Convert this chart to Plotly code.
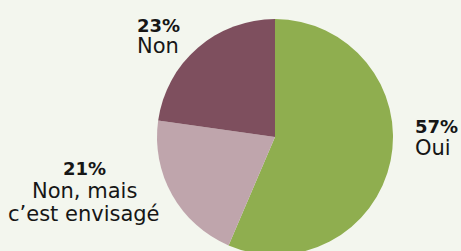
import plotly.graph_objects as go

labels = ["Oui", "Non, mais c’est envisagé", "Non"]
values = [57, 21, 23]
colors = ["#8fae4f", "#bfa5ac", "#7e4f5e"]

W, H = 461, 262
cx, cy, r = 275, 137, 118

fig = go.Figure(go.Pie(
    labels=labels, values=values, sort=False, direction="clockwise", rotation=0,
    marker=dict(colors=colors, line=dict(width=0)), textinfo="none", hoverinfo="none",
    domain=dict(x=[(cx - r) / W, (cx + r) / W], y=[(H - (cy + r)) / H, (H - (cy - r)) / H]),
    showlegend=False,
))

font = "DejaVu Sans"
ann_pos = [
    dict(x=414, y=126, xanchor="left", lines=["Oui"], gap=22),
    dict(x=84, y=168, xanchor="center", lines=["Non, mais", "c’est envisagé"], gap=23),
    dict(x=158, y=25, xanchor="center", lines=["Non"], gap=21),
]
for v, p in zip(values, ann_pos):
    fig.add_annotation(x=p["x"] / W, y=1 - p["y"] / H, xref="paper", yref="paper",
                       text=f"<b>{v}%</b>", showarrow=False, xanchor=p["xanchor"], yanchor="middle",
                       height=18, borderpad=0,
                       font=dict(family=font, size=18, color="#161616"))
    for i, line in enumerate(p["lines"]):
        fig.add_annotation(x=p["x"] / W, y=1 - (p["y"] + p["gap"] * (i + 1)) / H, xref="paper", yref="paper",
                           text=line, showarrow=False, xanchor=p["xanchor"], yanchor="middle",
                           height=22, borderpad=0,
                           font=dict(family=font, size=21, color="#161616"))

fig.update_layout(width=W, height=H, margin=dict(l=0, r=0, t=0, b=0),
                  paper_bgcolor="#f3f6ee", plot_bgcolor="#f3f6ee")
fig.write_html("out.html", config={"displayModeBar": False},
               post_script="document.body.style.margin='0';document.body.style.overflow='hidden';document.body.style.background='#f3f6ee';")
